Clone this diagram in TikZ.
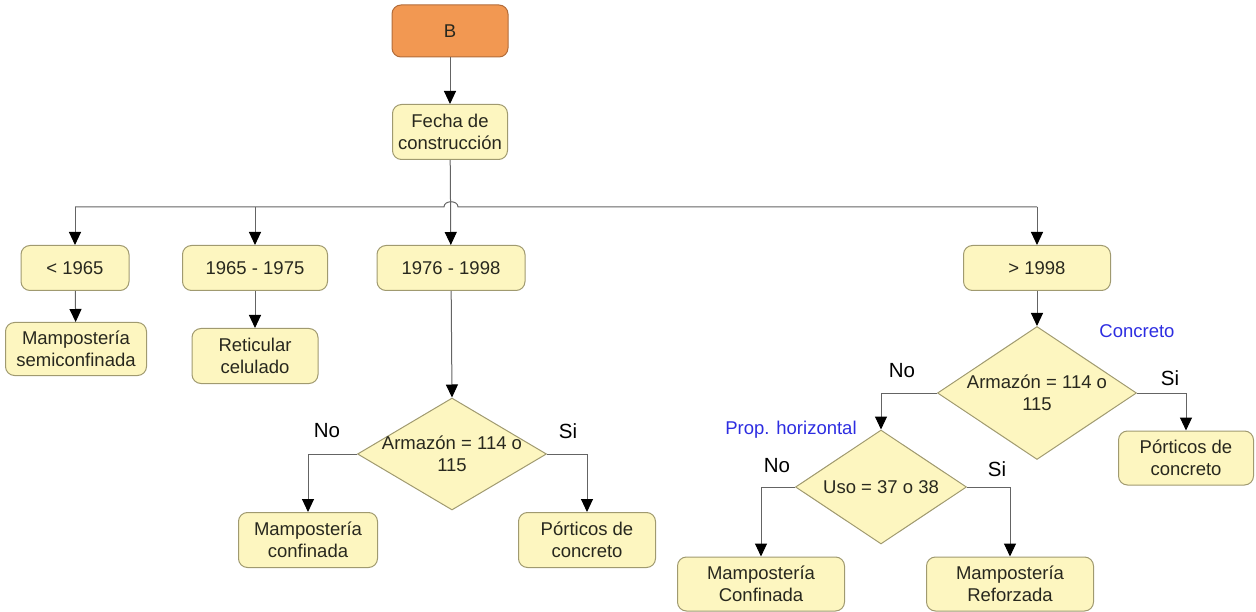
\documentclass[tikz,border=0pt]{standalone}
\usepackage{fontspec}
\setmainfont{Liberation Sans}
\usetikzlibrary{shapes.geometric,arrows.meta}
\definecolor{boxfill}{RGB}{253,246,192}
\definecolor{boxline}{RGB}{160,154,112}
\definecolor{startfill}{RGB}{242,152,82}
\definecolor{startline}{RGB}{178,108,58}
\definecolor{wire}{RGB}{100,100,100}
\definecolor{note}{RGB}{45,45,225}
\definecolor{ink}{RGB}{40,40,30}
\begin{document}
\begin{tikzpicture}[x=1pt,y=-1pt,
  box/.style={draw=boxline, fill=boxfill, rounded corners=9pt, line width=1pt,
    align=center, text=ink, font=\fontsize{18.5}{21.5}\selectfont, inner sep=0pt},
  startbox/.style={box, draw=startline, fill=startfill},
  dia/.style={draw=boxline, fill=boxfill, diamond, line width=1pt, inner sep=0pt},
  diatext/.style={align=center, text=ink, font=\fontsize{18.5}{21.5}\selectfont, inner sep=0pt},
  link/.style={draw=wire, line width=1pt},
  arr/.style={link, -{Triangle[length=13pt,width=12pt,color=black]}},
  answer/.style={text=black, font=\fontsize{20.5}{22}\selectfont, inner sep=0pt},
  note/.style={text=note, font=\fontsize{18.5}{20}\selectfont, inner sep=0pt}
]
\useasboundingbox (0,0) rectangle (1256,612);

% top of the tree
\node[startbox, minimum width=116, minimum height=52] (b) at (450,31) {B};
\node[box, minimum width=115, minimum height=55] (fecha) at (450,132) {Fecha de\\construcción};

% construction periods
\node[box, minimum width=108, minimum height=45] (p1) at (75,268) {< 1965};
\node[box, minimum width=145, minimum height=45] (p2) at (255,268) {1965 - 1975};
\node[box, minimum width=148, minimum height=45] (p3) at (451,268) {1976 - 1998};
\node[box, minimum width=147, minimum height=45] (p4) at (1037,268) {> 1998};

% direct outcomes
\node[box, minimum width=141, minimum height=53] (semi) at (76,349) {Mampostería\\semiconfinada};
\node[box, minimum width=126, minimum height=55] (ret) at (255,356) {Reticular\\celulado};

% 1976 - 1998 decision
\node[dia, minimum width=189, minimum height=112] (d1) at (452,454) {};
\node[diatext] at (d1.center) {Armazón = 114 o\\115};
\node[box, minimum width=139, minimum height=55] (conf1) at (308,540) {Mampostería\\confinada};
\node[box, minimum width=137, minimum height=55] (port1) at (587,540) {Pórticos de\\concreto};

% > 1998 decisions
\node[dia, minimum width=199, minimum height=133] (d2) at (1037,393) {};
\node[diatext] at (d2.center) {Armazón = 114 o\\115};
\node[box, minimum width=135, minimum height=54] (port2) at (1186,458) {Pórticos de\\concreto};
\node[dia, minimum width=171, minimum height=114] (d3) at (881,487) {};
\node[diatext] at (d3.center) {Uso = 37 o 38};
\node[box, minimum width=167, minimum height=54] (conf2) at (761,584) {Mampostería\\Confinada};
\node[box, minimum width=167, minimum height=54] (refo) at (1010,584) {Mampostería\\Reforzada};

% connectors from the top
\draw[arr] (b) -- (fecha);
\draw[arr] (fecha) -- (p3);

% distribution bus with a hop over the vertical line
\coordinate (busL) at (p1.north |- 0,207);
\coordinate (busR) at (p4.north |- 0,207);
\coordinate (hopL) at (444,207);
\coordinate (hopR) at (458,207);
\draw[link] (busL) -- (hopL) .. controls (444,200) and (458,200) .. (hopR) -- (busR);
\draw[arr] (busL) -- (p1);
\draw[arr] (p2.north |- busL) -- (p2);
\draw[arr] (busR) -- (p4);

\draw[arr] (p1) -- (semi);
\draw[arr] (p2) -- (ret);
\draw[arr] (p3) -- (d1.north);
\draw[arr] (p4.south -| d2.north) -- (d2.north);

% branches of the decisions
\draw[arr] (d1.west) -| (conf1.north);
\draw[arr] (d1.east) -| (port1.north);
\draw[arr] (d2.west) -| (d3.north);
\draw[arr] (d2.east) -| (port2.north);
\draw[arr] (d3.west) -| (conf2.north);
\draw[arr] (d3.east) -| (refo.north);

% answer labels
\node[answer] at (327,431) {No};
\node[answer] at (568,431) {Si};
\node[answer] at (902,371) {No};
\node[answer] at (1170,378) {Si};
\node[answer] at (777,466) {No};
\node[answer] at (997,469) {Si};

% category notes
\node[note] at (1137,331) {Concreto};
\node[note] at (791,430) {Prop. horizontal};
\end{tikzpicture}
\end{document}
